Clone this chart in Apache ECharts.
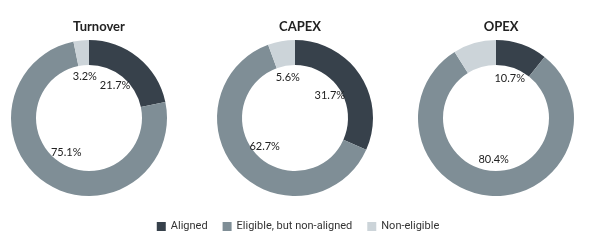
<!DOCTYPE html>
<html><head><meta charset="utf-8">
<script src="https://cdn.jsdelivr.net/npm/echarts@6/dist/echarts.min.js"></script>
<style>html,body{margin:0;padding:0;background:#fff}#c{width:596px;height:250px}</style>
</head><body><div id="c"></div>
<script>
const categories = ['Aligned', 'Eligible, but non-aligned', 'Non-eligible'];
const chartTitles = ['Turnover', 'CAPEX', 'OPEX'];
const turnover = [21.7, 75.1, 3.2];
const capex = [31.7, 62.7, 5.6];
const opex = [10.7, 80.4, 8.9];
const allValues = [turnover, capex, opex];

const colors = ['#37414b', '#7f8e96', '#ccd4d9'];
const centers = [[89, 118], [295, 118], [496, 118]];
const font = 'Lato, "Open Sans", sans-serif';

const series = [];
const titles = [];
allValues.forEach((vals, i) => {
  const data = vals.map((v, j) => ({ name: categories[j], value: v }));
  series.push({
    type: 'pie', center: centers[i], radius: [53, 78], startAngle: 90, clockwise: true,
    silent: true, label: { show: false }, labelLine: { show: false },
    itemStyle: { borderWidth: 0 }, data: data
  });
  series.push({
    type: 'pie', center: centers[i], radius: [0, 77], startAngle: 90, clockwise: true,
    silent: true, legendHoverLink: false, z: 5,
    itemStyle: { color: 'transparent' }, emphasis: { disabled: true },
    label: { show: true, position: 'inside', formatter: p => p.value.toFixed(1) + '%',
             color: '#222', fontSize: 11, fontFamily: font },
    labelLine: { show: false },
    data: vals.map((v, j) => ({ name: categories[j] + ' ', value: v }))
  });
  titles.push({ text: chartTitles[i], left: centers[i][0] + (i === 0 ? 5 : 0), top: 15, textAlign: 'center',
    textStyle: { fontSize: 13, fontWeight: 'bold', color: '#222', fontFamily: font } });
});

const chart = echarts.init(document.getElementById('c'));
chart.setOption({
  animation: false,
  color: colors,
  title: titles,
  legend: {
    data: categories, bottom: 13, left: 'center', itemWidth: 9, itemHeight: 9, itemGap: 15,
    icon: 'rect', selectedMode: false,
    textStyle: { fontSize: 11, color: '#333', fontFamily: 'Roboto, sans-serif' }
  },
  series: series
});
</script></body></html>
